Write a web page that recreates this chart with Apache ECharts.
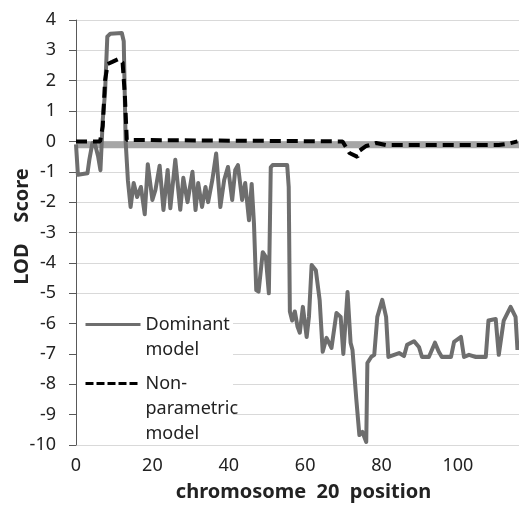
<!DOCTYPE html>
<html>
<head>
<meta charset="utf-8">
<script src="https://cdn.jsdelivr.net/npm/echarts@6/dist/echarts.min.js"></script>
<style>html,body{margin:0;padding:0;background:#fff;}#c{width:519px;height:508px;}</style>
</head>
<body>
<div id="c"></div>
<script>
var xTicks = [0, 20, 40, 60, 80, 100];
var yTicks = [4, 3, 2, 1, 0, -1, -2, -3, -4, -5, -6, -7, -8, -9, -10];

var domX = [0, 0.5, 3.0, 3.5, 4.3, 5.0, 5.8, 6.4, 7.0, 7.6, 8.2, 9.0, 12.0, 12.5, 13.0, 13.6,
  14.3, 15.1, 16.0, 17.0, 18.0, 18.8, 20.0, 20.8, 21.9, 22.9, 24.0, 24.7, 26.0, 27.3, 28.1,
  29.2, 30.5, 31.3, 32.0, 33.0, 33.9, 34.6, 35.7, 36.7, 37.8, 38.8, 39.8, 40.9, 41.7, 42.4,
  43.5, 44.3, 45.3, 46.0, 46.6, 47.2, 47.8, 48.9, 49.7, 50.5, 51.0, 51.5, 55.3, 55.7, 56.0,
  56.6, 57.3, 58.0, 58.6, 59.4, 60.4, 61.0, 61.7, 62.8, 63.8, 64.6, 65.6, 66.9, 68.2, 69.3,
  70.0, 71.1, 71.9, 72.4, 73.4, 74.2, 75.0, 76.0, 76.3, 77.3, 78.1, 78.9, 80.2, 81.2, 81.8,
  83.3, 84.6, 85.9, 86.7, 88.5, 89.8, 90.6, 92.4, 94.0, 95.0, 95.8, 98.2, 99.0, 100.8, 101.6,
  102.9, 104.7, 107.3, 108.0, 109.9, 110.7, 111.2, 112.0, 113.8, 115.1, 115.6];
var domY = [-0.1, -1.1, -1.05, -0.6, -0.05, -0.1, -0.5, -0.95, 0.7, 1.6, 3.45, 3.55, 3.57, 3.3, 0, -1.3,
  -2.16, -1.37, -1.83, -1.5, -2.4, -0.75, -1.93, -1.6, -0.8, -2.26, -0.94, -2.2, -0.6, -2.25, -1.2,
  -2.0, -1.0, -2.26, -1.37, -2.16, -1.5, -2.0, -1.27, -0.4, -2.16, -1.27, -0.84, -1.93, -0.94, -0.78,
  -1.93, -1.37, -2.6, -1.4, -2.7, -4.9, -4.95, -3.65, -3.8, -5.0, -0.85, -0.78, -0.78, -1.5, -5.6,
  -5.9, -5.6, -6.1, -6.3, -5.45, -6.44, -5.78, -4.07, -4.24, -5.22, -6.93, -6.47, -6.8, -5.65, -5.78,
  -7.0, -4.96, -6.63, -6.87, -8.5, -9.67, -9.57, -9.9, -7.3, -7.1, -7.03, -5.78, -5.22, -5.78, -7.1,
  -7.03, -6.97, -7.07, -6.7, -6.58, -6.77, -7.1, -7.1, -6.63, -6.93, -7.1, -7.1, -6.6, -6.44, -7.1,
  -7.03, -7.1, -7.1, -5.9, -5.85, -7.03, -7.03, -5.9, -5.45, -5.78, -6.87];

var npX = [0, 6.3, 7.0, 7.6, 8.3, 9.5, 11.2, 12.2, 12.8, 13.3, 13.5, 69.8, 71.6, 73.7, 74.3, 76.0,
  78.6, 81.2, 110.7, 113.0, 115.6];
var npY = [0, 0, 0.5, 2.0, 2.55, 2.62, 2.72, 2.6, 1.5, 0.05, 0, 0, -0.38, -0.51, -0.3, -0.15,
  -0.05, -0.12, -0.12, -0.08, 0];

var bandX = [0, 116];
var bandY = [-0.11, -0.11];

var domName = 'Dominant model';
var npName = 'Non-parametric model';
var domLines = ['Dominant', 'model'];
var npLines = ['Non-', 'parametric', 'model'];

function zip(a, b) { return a.map(function (v, i) { return [v, b[i]]; }); }
function richLines(lines) {
  // blank spacer lines on top so that the first text line sits on the legend swatch
  var pre = [];
  for (var i = 1; i < lines.length; i++) pre.push('{s| }');
  return pre.concat(lines.map(function (l) { return '{a|' + l + '}'; })).join('\n');
}

var FONT = 'Noto Sans';
var rich = {
  s: { fontFamily: FONT, fontSize: 18, lineHeight: 25 },
  a: { fontFamily: FONT, fontSize: 18, lineHeight: 25, color: '#222' }
};
var chart = echarts.init(document.getElementById('c'));
chart.setOption({
  animation: false,
  backgroundColor: '#fff',
  grid: { left: 76, right: 0, top: 20, bottom: 63, containLabel: false, outerBoundsMode: 'none' },
  graphic: [{
    type: 'rect', left: 77, top: 308, z: 1,
    shape: { width: 156, height: 136 },
    style: { fill: '#fff' }
  }],
  legend: [{
    orient: 'vertical', left: 84, top: 290.5, padding: 0,
    itemWidth: 55, itemHeight: 14, selectedMode: false, itemStyle: { opacity: 0 },
    lineStyle: { width: 3 },
    textStyle: { fontFamily: FONT, fontSize: 18, color: '#222', rich: rich },
    formatter: function () { return richLines(domLines); },
    data: [domName]
  }, {
    orient: 'vertical', left: 84, top: 324.5, padding: 0,
    itemWidth: 55, itemHeight: 14, selectedMode: false, itemStyle: { opacity: 0 },
    lineStyle: { width: 3, type: [8, 3] },
    textStyle: { fontFamily: FONT, fontSize: 18, color: '#222', rich: rich },
    formatter: function () { return richLines(npLines); },
    data: [npName]
  }],
  xAxis: {
    type: 'value', min: 0, max: 116, interval: 20,
    name: 'chromosome  20  position', nameLocation: 'middle', nameGap: 37,
    nameTextStyle: { fontFamily: FONT, fontSize: 20, fontWeight: 'bold', color: '#222', padding: [0, 0, 0, 12] },
    axisLine: { show: false }, axisTick: { show: false },
    splitLine: { show: false },
    axisLabel: { fontFamily: FONT, fontSize: 18, color: '#222', margin: 12, showMaxLabel: false,
      formatter: function (v) { return xTicks.indexOf(v) >= 0 ? String(v) : ''; } }
  },
  yAxis: {
    type: 'value', min: -10, max: 4, interval: 1,
    name: 'LOD    Score', nameLocation: 'middle', nameGap: 44, nameRotate: 90, nameMoveOverlap: false,
    nameTextStyle: { fontFamily: FONT, fontSize: 20, fontWeight: 'bold', color: '#222', padding: [0, 0, 0, 12] },
    axisLine: { show: true, onZero: false, lineStyle: { color: '#595959', width: 1 } },
    axisTick: { show: true, length: 7, lineStyle: { color: '#595959' } },
    splitLine: { show: true, lineStyle: { color: '#d9d9d9', width: 1 } },
    axisLabel: { fontFamily: FONT, fontSize: 18, color: '#222', margin: 20,
      formatter: function (v) { return yTicks.indexOf(v) >= 0 ? String(v) : ''; } }
  },
  series: [{
    name: 'band', type: 'line', data: zip(bandX, bandY), symbol: 'none', silent: true,
    lineStyle: { color: '#a6a6a6', width: 7 }, z: 2
  }, {
    name: domName, type: 'line', data: zip(domX, domY), symbol: 'none',
    color: '#6e6e6e',
    lineStyle: { color: '#6e6e6e', width: 4, join: 'round' }, z: 3
  }, {
    name: npName, type: 'line', data: zip(npX, npY), symbol: 'none',
    color: '#000',
    lineStyle: { color: '#000', width: 4, type: [11, 6] }, z: 4
  }]
});
</script>
</body>
</html>
